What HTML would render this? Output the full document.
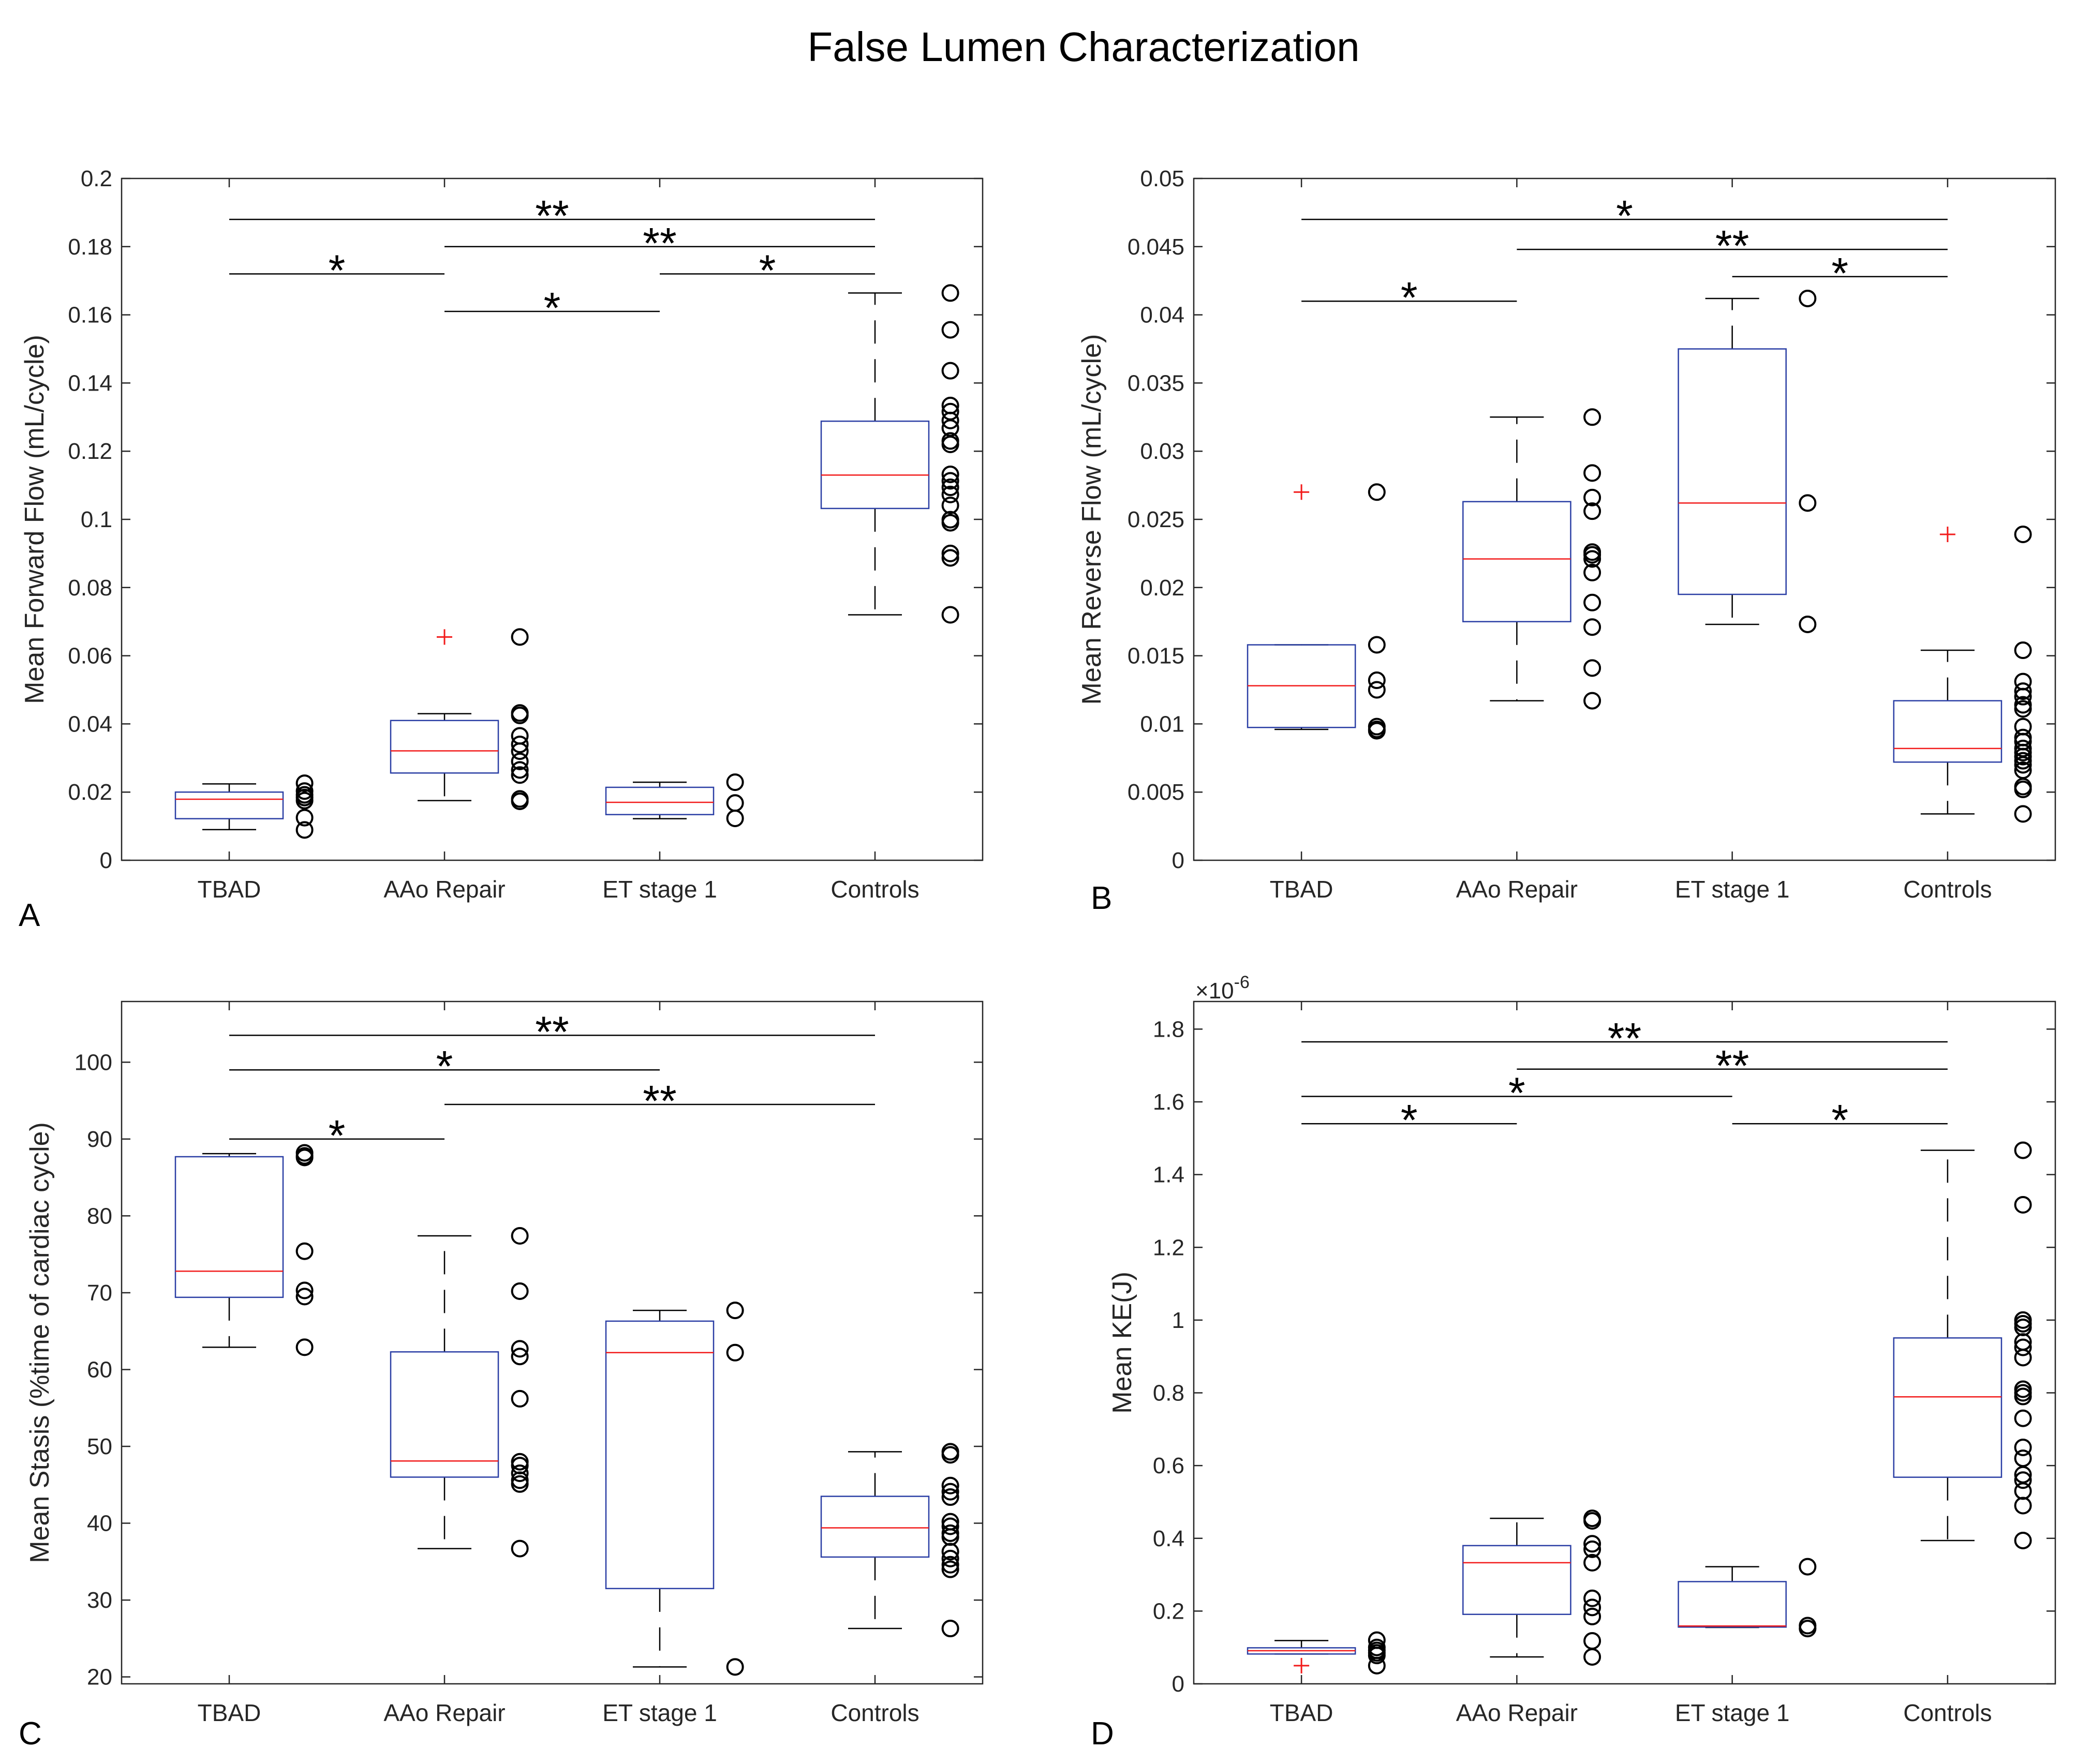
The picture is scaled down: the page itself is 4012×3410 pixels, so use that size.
<!DOCTYPE html>
<html><head><meta charset="utf-8">
<style>
html,body{margin:0;padding:0;background:#fff;}
svg{display:block;font-family:"Liberation Sans",sans-serif;}
</style></head>
<body>
<svg id="fig" width="4012" height="3410" viewBox="0 0 4012 3410" xmlns="http://www.w3.org/2000/svg">
<rect width="4012" height="3410" fill="#fff"/>
<text x="2094" y="118" font-size="80" text-anchor="middle" fill="#000">False Lumen Characterization</text>
</svg>
<script>
const categories = ["TBAD","AAo Repair","ET stage 1","Controls"];

// Panel A: Mean Forward Flow
const aWhiskerLo = [0.009, 0.0175, 0.0122, 0.072];
const aQ1 = [0.0122, 0.0256, 0.0134, 0.1032];
const aMedian = [0.0179, 0.0321, 0.017, 0.113];
const aQ3 = [0.020, 0.041, 0.0214, 0.1288];
const aWhiskerHi = [0.0224, 0.043, 0.0229, 0.1664];
const aOutliers = [[], [0.0655], [], []];
const aPoints = [
 [0.0226,0.0203,0.0192,0.0184,0.0175,0.0125,0.0089],
 [0.0655,0.0432,0.0425,0.0365,0.034,0.032,0.029,0.0265,0.025,0.018,0.0173],
 [0.0229,0.0168,0.0123],
 [0.1664,0.1556,0.1436,0.1334,0.1316,0.129,0.1268,0.123,0.122,0.1132,0.1113,0.1094,0.1073,0.1041,0.0999,0.099,0.09,0.0887,0.072]];
const aYTicks = [0,0.02,0.04,0.06,0.08,0.1,0.12,0.14,0.16,0.18,0.2];
const aYTickLabels = ["0","0.02","0.04","0.06","0.08","0.1","0.12","0.14","0.16","0.18","0.2"];
const aSigFrom = [1,2,1,3,2];
const aSigTo = [4,4,2,4,3];
const aSigY = [0.188,0.180,0.172,0.172,0.161];
const aSigLabel = ["**","**","*","*","*"];

// Panel B: Mean Reverse Flow
const bWhiskerLo = [0.0096, 0.0117, 0.0173, 0.0034];
const bQ1 = [0.00974, 0.0175, 0.0195, 0.0072];
const bMedian = [0.0128, 0.0221, 0.0262, 0.0082];
const bQ3 = [0.0158, 0.0263, 0.0375, 0.0117];
const bWhiskerHi = [0.0158, 0.0325, 0.0412, 0.0154];
const bOutliers = [[0.027], [], [], [0.0239]];
const bPoints = [
 [0.027,0.0158,0.0132,0.0125,0.0098,0.0096,0.0095],
 [0.0325,0.0284,0.0266,0.0256,0.0226,0.0224,0.0221,0.0211,0.0189,0.0171,0.0141,0.0117],
 [0.0412,0.0262,0.0173],
 [0.0239,0.0154,0.0131,0.0124,0.012,0.0114,0.0111,0.0098,0.009,0.0087,0.0082,0.0079,0.0076,0.0073,0.007,0.0066,0.0054,0.0052,0.0034]];
const bYTicks = [0,0.005,0.01,0.015,0.02,0.025,0.03,0.035,0.04,0.045,0.05];
const bYTickLabels = ["0","0.005","0.01","0.015","0.02","0.025","0.03","0.035","0.04","0.045","0.05"];
const bSigFrom = [1,2,3,1];
const bSigTo = [4,4,4,2];
const bSigY = [0.047,0.0448,0.0428,0.041];
const bSigLabel = ["*","**","*","*"];

// Panel C: Mean Stasis
const cWhiskerLo = [62.9, 36.7, 21.3, 26.3];
const cQ1 = [69.4, 46.0, 31.5, 35.6];
const cMedian = [72.8, 48.1, 62.2, 39.4];
const cQ3 = [87.7, 62.3, 66.3, 43.5];
const cWhiskerHi = [88.1, 77.4, 67.7, 49.3];
const cOutliers = [[], [], [], []];
const cPoints = [
 [88.2,87.8,87.6,75.4,70.3,69.5,62.9],
 [77.4,70.2,62.7,61.7,56.2,48.0,47.5,46.5,45.6,45.1,36.7],
 [67.7,62.2,21.3],
 [49.3,48.9,44.9,44.1,43.4,40.2,39.6,38.7,38.2,36.3,35.4,34.6,34.0,26.3]];
const cYTicks = [20,30,40,50,60,70,80,90,100];
const cYTickLabels = ["20","30","40","50","60","70","80","90","100"];
const cSigFrom = [1,1,2,1];
const cSigTo = [4,3,4,2];
const cSigY = [103.5,99,94.5,90];
const cSigLabel = ["**","*","**","*"];

// Panel D: Mean KE (x1e-6)
const dWhiskerLo = [0.082, 0.074, 0.155, 0.394];
const dQ1 = [0.082, 0.191, 0.156, 0.568];
const dMedian = [0.091, 0.333, 0.159, 0.789];
const dQ3 = [0.099, 0.38, 0.281, 0.951];
const dWhiskerHi = [0.119, 0.455, 0.322, 1.467];
const dOutliers = [[0.05], [], [], []];
const dPoints = [
 [0.12,0.10,0.092,0.085,0.078,0.05],
 [0.455,0.448,0.385,0.37,0.333,0.235,0.21,0.185,0.118,0.074],
 [0.322,0.16,0.152],
 [1.467,1.317,1.0,0.99,0.98,0.94,0.925,0.897,0.81,0.80,0.79,0.73,0.65,0.62,0.575,0.56,0.53,0.49,0.394]];
const dYTicks = [0,0.2,0.4,0.6,0.8,1,1.2,1.4,1.6,1.8];
const dYTickLabels = ["0","0.2","0.4","0.6","0.8","1","1.2","1.4","1.6","1.8"];
const dSigFrom = [1,2,1,1,3];
const dSigTo = [4,4,3,2,4];
const dSigY = [1.765,1.69,1.615,1.54,1.54];
const dSigLabel = ["**","**","*","*","*"];

const NS = "http://www.w3.org/2000/svg";
const svg = document.getElementById("fig");
function mk(tag, attrs, parent){
  const e = document.createElementNS(NS, tag);
  for (const k in attrs) e.setAttribute(k, attrs[k]);
  (parent||svg).appendChild(e);
  return e;
}

function panel(cfg){
  const g = mk("g", {});
  
  
  const L=cfg.x0, R=cfg.x1, T=cfg.y0, B=cfg.y1;
  const xs = v => L + (v-0.5)/4*(R-L);
  const ys = v => B - (v-cfg.ymin)/(cfg.ymax-cfg.ymin)*(B-T);
  const axc="#262626";
  // ticks
  cfg.yt.forEach((t,i)=>{
    const y=ys(t);
    mk("line",{x1:L,x2:L+17,y1:y,y2:y,stroke:axc,"stroke-width":2.5},g);
    mk("line",{x1:R,x2:R-17,y1:y,y2:y,stroke:axc,"stroke-width":2.5},g);
    const tx=mk("text",{x:L-18,y:y+15,"font-size":44,"text-anchor":"end",fill:axc},g);
    tx.textContent=cfg.ytl[i];
    
    
  });
  categories.forEach((c,i)=>{
    const x=xs(i+1);
    mk("line",{x1:x,x2:x,y1:B,y2:B-17,stroke:axc,"stroke-width":2.5},g);
    mk("line",{x1:x,x2:x,y1:T,y2:T+17,stroke:axc,"stroke-width":2.5},g);
    const tx=mk("text",{x:x,y:B+72,"font-size":46,"text-anchor":"middle",fill:axc},g);
    tx.textContent=c;
    
    
  });
  // boxes
  const bw=0.25*(R-L)/4, cw=0.125*(R-L)/4;
  for(let i=0;i<4;i++){
    const x=xs(i+1);
    const bg=mk("g",{},g);
    
    
    const q1=ys(cfg.q1[i]), q3=ys(cfg.q3[i]), md=ys(cfg.med[i]), lo=ys(cfg.lo[i]), hi=ys(cfg.hi[i]);
    mk("line",{x1:x,x2:x,y1:q3,y2:hi,stroke:"#000","stroke-width":2.5,"stroke-dasharray":"45,30"},bg);
    mk("line",{x1:x,x2:x,y1:q1,y2:lo,stroke:"#000","stroke-width":2.5,"stroke-dasharray":"45,30"},bg);
    mk("line",{x1:x-cw,x2:x+cw,y1:hi,y2:hi,stroke:"#000","stroke-width":2.5},bg);
    mk("line",{x1:x-cw,x2:x+cw,y1:lo,y2:lo,stroke:"#000","stroke-width":2.5},bg);
    mk("rect",{x:x-bw,y:q3,width:2*bw,height:Math.max(q1-q3,1),fill:"none",stroke:"#2b3fa5","stroke-width":2.5},bg);
    mk("line",{x1:x-bw,x2:x+bw,y1:md,y2:md,stroke:"#f21b1b","stroke-width":2.5},bg);
    cfg.out[i].forEach(o=>{
      const y=ys(o);
      const p=mk("path",{d:`M${x-15} ${y}H${x+15}M${x} ${y-15}V${y+15}`,stroke:"#f21b1b","stroke-width":3,fill:"none"},bg);
      
      
    });
    const px=xs(i+1+0.35);
    cfg.pts[i].forEach(v=>{
      const c=mk("ellipse",{cx:px,cy:ys(v),rx:15,ry:15,fill:"none",stroke:"#000","stroke-width":4},g);
      
      
    });
  }
  // significance
  cfg.sf.forEach((f,i)=>{
    const y=ys(cfg.sy[i]), xa=xs(f), xb=xs(cfg.st[i]);
    const ln=mk("line",{x1:xa,x2:xb,y1:y,y2:y,stroke:"#000","stroke-width":2.5},g);
    
    
    const t=mk("text",{x:(xa+xb)/2,y:y+22,"font-size":84,"text-anchor":"middle",fill:"#000"},g);
    t.textContent=cfg.sl[i];
    
    
  });
  // axes frame
  const fr=mk("rect",{x:L,y:T,width:R-L,height:B-T,fill:"none",stroke:axc,"stroke-width":2.5},g);
  
  
  const yl=mk("text",{x:0,y:0,"font-size":52,"text-anchor":"middle",fill:axc,transform:`translate(${cfg.ylx},${(T+B)/2}) rotate(-90)`},g);
  yl.textContent=cfg.ylabel;
  
  
  const pl=mk("text",{x:cfg.lx,y:cfg.ly,"font-size":62,fill:"#000"},g);
  pl.textContent=cfg.letter;
  
  
}

panel({name:"panel-a",x0:235,x1:1899,y0:345,y1:1663,ymin:0,ymax:0.2,yt:aYTicks,ytl:aYTickLabels,
  lo:aWhiskerLo,q1:aQ1,med:aMedian,q3:aQ3,hi:aWhiskerHi,out:aOutliers,pts:aPoints,
  sf:aSigFrom,st:aSigTo,sy:aSigY,sl:aSigLabel,ylabel:"Mean Forward Flow (mL/cycle)",ylx:84,letter:"A",lx:36,ly:1790});
panel({name:"panel-b",x0:2307,x1:3972,y0:345,y1:1663,ymin:0,ymax:0.05,yt:bYTicks,ytl:bYTickLabels,
  lo:bWhiskerLo,q1:bQ1,med:bMedian,q3:bQ3,hi:bWhiskerHi,out:bOutliers,pts:bPoints,
  sf:bSigFrom,st:bSigTo,sy:bSigY,sl:bSigLabel,ylabel:"Mean Reverse Flow (mL/cycle)",ylx:2127,letter:"B",lx:2108,ly:1757});
panel({name:"panel-c",x0:235,x1:1899,y0:1936,y1:3255,ymin:19.1,ymax:107.9,yt:cYTicks,ytl:cYTickLabels,
  lo:cWhiskerLo,q1:cQ1,med:cMedian,q3:cQ3,hi:cWhiskerHi,out:cOutliers,pts:cPoints,
  sf:cSigFrom,st:cSigTo,sy:cSigY,sl:cSigLabel,ylabel:"Mean Stasis (%time of cardiac cycle)",ylx:94,letter:"C",lx:36,ly:3372});
panel({name:"panel-d",x0:2307,x1:3972,y0:1936,y1:3255,ymin:0,ymax:1.876,yt:dYTicks,ytl:dYTickLabels,
  lo:dWhiskerLo,q1:dQ1,med:dMedian,q3:dQ3,hi:dWhiskerHi,out:dOutliers,pts:dPoints,
  sf:dSigFrom,st:dSigTo,sy:dSigY,sl:dSigLabel,ylabel:"Mean KE(J)",ylx:2186,letter:"D",lx:2108,ly:3372});

const ex=mk("text",{x:2310,y:1930,"font-size":44,fill:"#262626"});
ex.innerHTML='×10<tspan dy="-20" font-size="34">-6</tspan>';


</script>
</body></html>
